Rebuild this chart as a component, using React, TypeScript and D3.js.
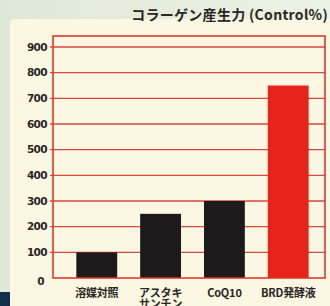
import React, { useEffect } from 'react';
import * as d3 from 'd3';

const categories = ['溶媒対照', 'アスタキ\nサンチン', 'CoQ10', 'BRD発酵液'];
const values = [100, 250, 300, 750];
const barColors = ['#1c1a1a', '#1c1a1a', '#1c1a1a', '#e8231a'];
const yTicks = [0, 100, 200, 300, 400, 500, 600, 700, 800, 900];
const title = 'コラーゲン産生力 (Control%)';

const W = 330;
const H = 306;

export default function App() {
  useEffect(() => {
    document.body.style.margin = '0';
  }, []);

  const y = d3.scaleLinear().domain([0, 900]).range([278, 47]);
  const x = d3.scaleBand<string>().domain(categories).range([54, 331]).paddingInner(0.36).paddingOuter(0.35);
  const frameLeft = 53;
  const frameRight = 325;
  const frameTop = 36;
  const font = '"Noto Sans CJK JP", "DejaVu Sans", sans-serif';

  return (
    <svg width={W} height={H} style={{ display: 'block' }}>
      <defs>
        <linearGradient id="bg" x1="0" x2="1" y1="0" y2="0">
          <stop offset="0" stopColor="#dfe8d6" />
          <stop offset="1" stopColor="#eef2e4" />
        </linearGradient>
      </defs>
      <rect width={W} height={H} fill="url(#bg)" />
      {/* cream panel */}
      <rect x={10} y={19} width={W} height={H} rx={4} fill="#fbf7e3" />
      <rect x={0} y={292} width={10} height={14} fill="#12304d" />

      <text x={328} y={20} textAnchor="end" fontFamily={font} fontSize={14} fontWeight={700} fill="#2a2624" letterSpacing={0.3}>
        {title}
      </text>

      {/* gridlines */}
      {yTicks.slice(1).map((t) => (
        <line key={t} x1={frameLeft - 3} x2={frameRight} y1={y(t)} y2={y(t)} stroke="#d8493c" strokeWidth={1.3} />
      ))}

      {/* bars */}
      {categories.map((c, i) => (
        <rect key={c} x={x(c)} y={y(values[i])} width={x.bandwidth()} height={y(0) - y(values[i])} fill={barColors[i]} />
      ))}

      {/* frame */}
      <rect x={frameLeft} y={frameTop} width={frameRight - frameLeft} height={y(0) - frameTop} fill="none" stroke="#e0382a" strokeWidth={1.6} />

      {/* y tick labels */}
      {yTicks.map((t) => (
        <text key={t} x={t === 0 ? 44 : 47} y={y(t) + (t === 0 ? 3 : 0)} dy="0.35em" textAnchor="end" fontFamily='"DejaVu Sans", sans-serif' fontSize={10.5} fontWeight={700} fill="#2a2624" letterSpacing={-0.6}>
          {t}
        </text>
      ))}

      {/* category labels */}
      {categories.map((c) => (
        <text key={c} x={(x(c) ?? 0) + x.bandwidth() / 2} y={297} textAnchor="middle" fontFamily={font} fontSize={11} fontWeight={700} fill="#2a2624" letterSpacing={-0.2}>
          {c.split('\n').map((line, j) => (
            <tspan key={j} x={(x(c) ?? 0) + x.bandwidth() / 2} dy={j === 0 ? 0 : 11}>
              {line}
            </tspan>
          ))}
        </text>
      ))}
    </svg>
  );
}
